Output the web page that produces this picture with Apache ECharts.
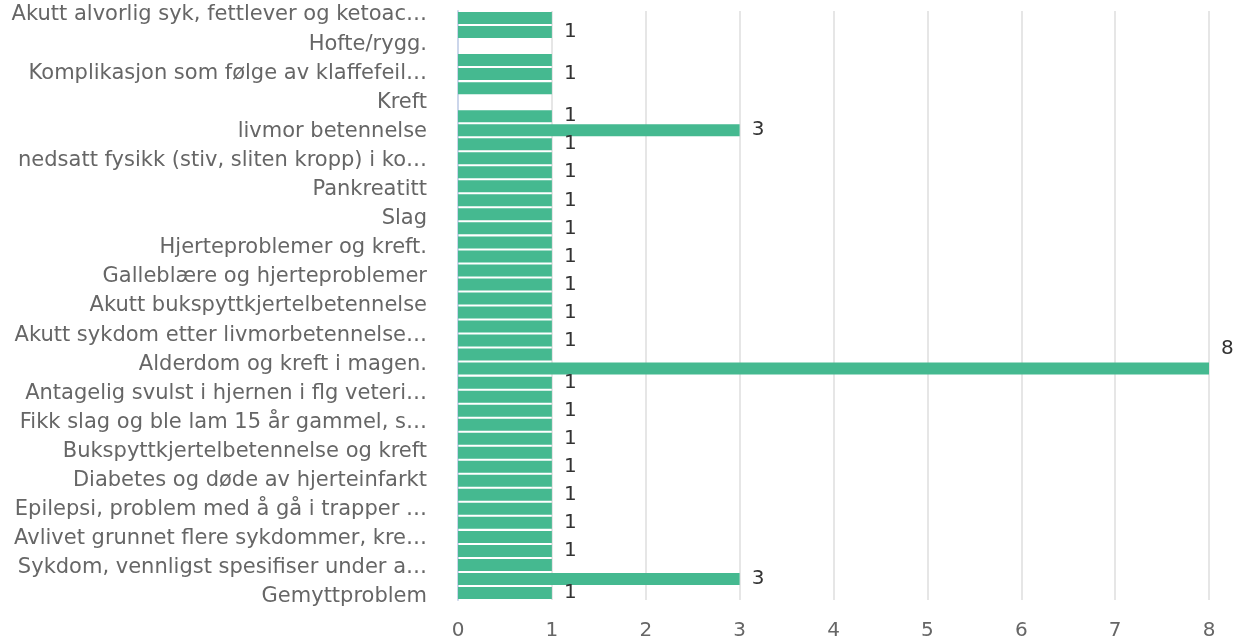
<!DOCTYPE html>
<html>
<head>
<meta charset="utf-8">
<script src="https://cdn.jsdelivr.net/npm/echarts@6/dist/echarts.min.js"></script>
<style>
  html, body { margin: 0; padding: 0; background: #fff; }
  #chart { width: 1246px; height: 642px; }
</style>
</head>
<body>
<div id="chart"></div>
<script>
// kategorier (aksetekst, slik de står i figuren)
const categories = [
  'Akutt alvorlig syk, fettlever og ketoac…',
  'Hofte/rygg.',
  'Komplikasjon som følge av klaffefeil…',
  'Kreft',
  'livmor betennelse',
  'nedsatt fysikk (stiv, sliten kropp) i ko…',
  'Pankreatitt',
  'Slag',
  'Hjerteproblemer og kreft.',
  'Galleblære og hjerteproblemer',
  'Akutt bukspyttkjertelbetennelse',
  'Akutt sykdom etter livmorbetennelse…',
  'Alderdom og kreft i magen.',
  'Antagelig svulst i hjernen i flg veteri…',
  'Fikk slag og ble lam 15 år gammel, s…',
  'Bukspyttkjertelbetennelse og kreft',
  'Diabetes og døde av hjerteinfarkt',
  'Epilepsi, problem med å gå i trapper …',
  'Avlivet grunnet flere sykdommer, kre…',
  'Sykdom, vennligst spesifiser under a…',
  'Gemyttproblem'
];

// stolper slik de er tegnet (42 plasser, null = tom plass)
const barValues = [
  1, 1, null, 1, 1, 1, null, 1, 3, 1,
  1, 1, 1, 1, 1, 1, 1, 1, 1, 1,
  1, 1, 1, 1, 1, 8, 1, 1, 1, 1,
  1, 1, 1, 1, 1, 1, 1, 1, 1, 1,
  3, 1
];

// plasser som har verditekst
const labelSlots = [1, 4, 7, 8, 9, 11, 13, 15, 17, 19, 21, 23, 25, 26, 28, 30, 32, 34, 36, 38, 40, 41];

const xMax = 8;
const slotNames = barValues.map((v, i) => 's' + i);

const chart = echarts.init(document.getElementById('chart'));
const fontFamily = 'DejaVu Sans';
const maxVal = Math.max(...barValues.filter(v => v != null));

chart.setOption({
  animation: false,
  textStyle: { fontFamily: fontFamily },
  grid: [
    { left: 458, right: 37, top: 11, height: 589 },
    { left: 458, right: 37, top: 15, height: 582 }
  ],
  xAxis: [
    {
      gridIndex: 0,
      type: 'value',
      min: 0,
      max: xMax,
      interval: 1,
      axisLine: { show: false },
      axisTick: { show: false },
      axisLabel: { color: '#666', fontSize: 20, margin: 21, fontFamily: fontFamily },
      splitLine: { lineStyle: { color: '#e6e6e6', width: 2 } }
    },
    { gridIndex: 1, type: 'value', min: 0, max: xMax, show: false }
  ],
  yAxis: [
    {
      gridIndex: 0,
      type: 'category',
      data: slotNames,
      inverse: true,
      axisLine: { show: true, lineStyle: { color: '#ccd6eb', width: 2 } },
      axisTick: { show: false },
      axisLabel: { show: false }
    },
    {
      gridIndex: 1,
      type: 'category',
      data: categories,
      inverse: true,
      boundaryGap: false,
      axisLine: { show: false },
      axisTick: { show: false },
      axisLabel: {
        interval: 0,
        color: '#666',
        fontSize: 21,
        margin: 31,
        fontFamily: fontFamily
      }
    }
  ],
  series: [
    {
      type: 'bar',
      xAxisIndex: 0,
      yAxisIndex: 0,
      barWidth: 12,
      itemStyle: { color: '#45b990' },
      data: barValues.map(v => v === maxVal ? { value: v, label: { offset: [0, -20] } } : v),
      label: {
        show: true,
        position: 'right',
        distance: 12,
        color: '#333',
        fontSize: 20,
        fontFamily: fontFamily,
        formatter: p => labelSlots.indexOf(p.dataIndex) >= 0 ? String(p.value) : ''
      }
    }
  ]
});
</script>
</body>
</html>
